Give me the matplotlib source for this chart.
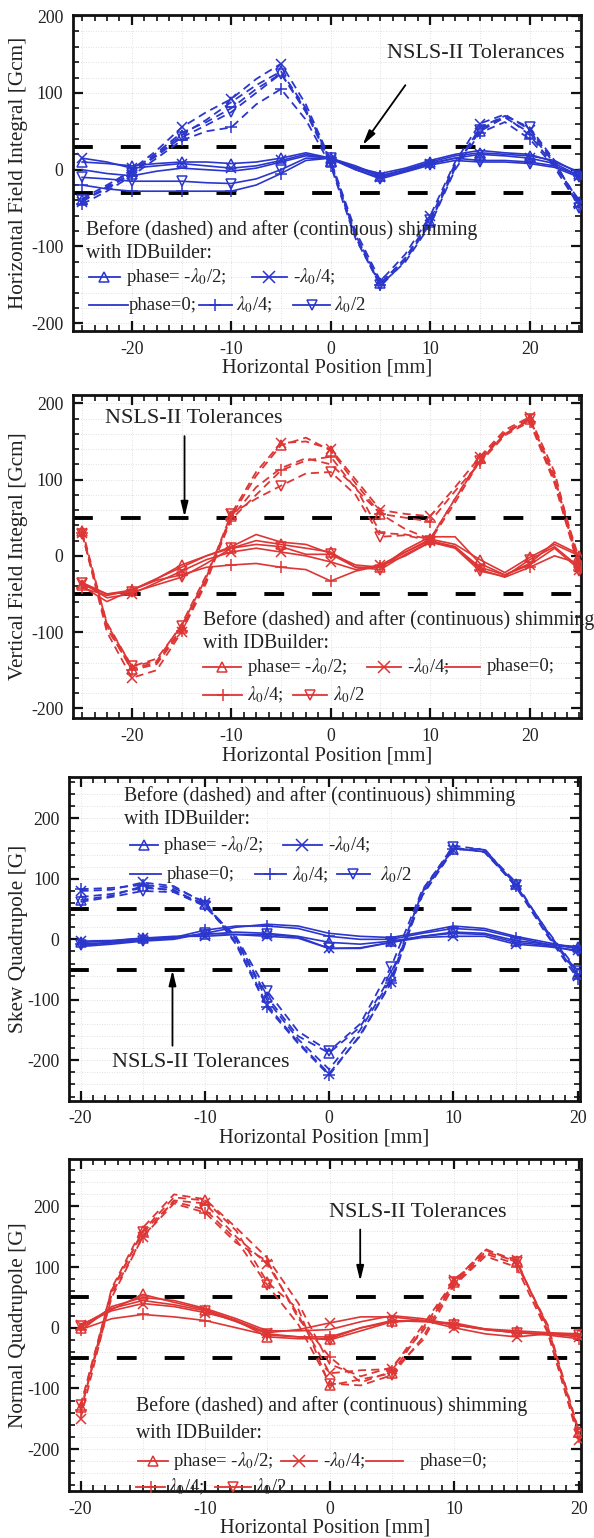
import matplotlib
matplotlib.use("Agg")
import matplotlib.pyplot as plt
from matplotlib.lines import Line2D
from matplotlib.ticker import MultipleLocator
import numpy as np

plt.rcParams['font.family'] = ['Liberation Serif', 'DejaVu Serif']
plt.rcParams['mathtext.fontset'] = 'stix'

BLUE = '#2b36cc'
RED = '#de3535'
TXT = '#222222'

# ---------------- data ----------------
x_p12 = [-25, -22.5, -20, -17.5, -15, -12.5, -10, -7.5, -5, -2.5, 0, 2.5, 5, 7.5, 10, 12.5, 15, 17.5, 20, 22.5, 25]
x_p34 = [-20, -17.5, -15, -12.5, -10, -7.5, -5, -2.5, 0, 2.5, 5, 7.5, 10, 12.5, 15, 17.5, 20]

phase_labels = [r'phase= -$\lambda_0$/2;', r'-$\lambda_0$/4;', 'phase=0;', r'$\lambda_0$/4;', r'$\lambda_0$/2']

# Panel 1: horizontal field integral [Gcm]
p1_before = [
    [-40, -25, -5, 20, 45, 65, 88, 110, 128, 80, 10, -85, -148, -115, -68, 5, 50, 68, 48, 8, -42],
    [-42, -22, 0, 25, 55, 75, 92, 118, 138, 85, 12, -80, -145, -110, -60, 10, 60, 72, 52, 10, -45],
    [-38, -20, -2, 22, 48, 62, 80, 105, 125, 75, 8, -88, -152, -118, -70, 2, 55, 70, 45, 5, -40],
    [-45, -28, -8, 15, 38, 50, 55, 85, 105, 65, 5, -90, -150, -120, -72, 0, 48, 62, 40, 3, -48],
    [-40, -24, -4, 18, 42, 58, 75, 100, 125, 78, 10, -85, -150, -115, -65, 8, 52, 70, 55, 12, -50],
]
p1_after = [
    [10, 8, 5, 8, 10, 10, 8, 10, 15, 22, 15, 2, -8, 0, 10, 18, 22, 20, 18, 12, -5],
    [15, 10, 2, 5, 8, 5, 2, 5, 12, 20, 14, 0, -10, -2, 8, 15, 20, 18, 15, 8, -8],
    [0, -5, -8, -2, 2, 0, -2, 2, 10, 18, 15, 3, -5, 2, 12, 20, 25, 22, 20, 10, -3],
    [-20, -25, -28, -28, -28, -28, -28, -20, -5, 12, 15, 5, -8, 0, 8, 15, 12, 12, 10, 5, -8],
    [-10, -12, -15, -15, -15, -17, -18, -12, 0, 15, 15, 0, -12, -3, 6, 12, 10, 10, 8, 3, -10],
]

# Panel 2: vertical field integral [Gcm]
p2_before = [
    [32, -95, -148, -140, -95, -30, 52, 105, 145, 155, 138, 95, 55, 35, 22, 75, 128, 162, 180, 100, -10],
    [30, -100, -160, -150, -100, -35, 55, 110, 148, 150, 140, 100, 60, 55, 52, 90, 130, 165, 182, 110, -15],
    [35, -90, -145, -138, -90, -25, 50, 90, 115, 128, 120, 90, 30, 28, 22, 75, 125, 160, 178, 100, -5],
    [30, -92, -150, -142, -98, -32, 48, 80, 112, 125, 130, 88, 55, 50, 45, 85, 122, 158, 176, 95, -18],
    [28, -88, -145, -135, -92, -28, 55, 75, 92, 108, 110, 80, 25, 27, 20, 70, 125, 160, 180, 105, -20],
]
p2_after = [
    [-38, -50, -45, -30, -12, 0, 10, 20, 15, 10, 5, -15, -15, 5, 22, 15, -5, -22, -2, 15, 0],
    [-35, -55, -50, -35, -20, -5, 5, 10, 5, 0, -8, -18, -12, 5, 20, 12, -15, -25, -12, 10, -18],
    [-40, -60, -45, -30, -15, 0, 12, 28, 18, 15, 3, -12, -15, 8, 25, 25, -10, -25, -10, 18, 2],
    [-42, -52, -45, -32, -25, -15, -12, -10, -15, -18, -33, -20, -13, 0, 18, 12, -18, -28, -15, 0, -10],
    [-35, -50, -48, -38, -28, -10, 10, 15, 12, 2, 2, -15, -18, 2, 18, 10, -20, -27, -5, 12, -15],
]

# Panel 3: skew quadrupole [G]
p3_before = [
    [65, 72, 88, 80, 58, 2, -95, -160, -188, -145, -60, 78, 150, 145, 92, 15, -55],
    [80, 82, 94, 88, 60, -5, -108, -170, -222, -160, -70, 72, 148, 150, 90, 10, -60],
    [70, 75, 85, 82, 55, 0, -100, -165, -215, -150, -65, 80, 155, 148, 95, 12, -58],
    [83, 85, 90, 85, 62, -8, -112, -172, -225, -158, -72, 75, 150, 146, 88, 8, -65],
    [62, 70, 80, 78, 55, 5, -85, -152, -185, -140, -45, 82, 152, 144, 90, 16, -52],
]
p3_after = [
    [-5, -3, 2, 3, 8, 12, 10, 5, -5, -8, -3, 5, 12, 10, -2, -8, -12],
    [-3, -2, 2, 5, 5, 8, 5, 2, -15, -15, -5, 3, 5, 5, -8, -12, -18],
    [-12, -8, -3, 0, 10, 20, 25, 22, 10, 5, 3, 12, 22, 18, 5, -5, -15],
    [-8, -5, 0, 3, 15, 22, 22, 18, 5, 0, 0, 10, 18, 15, 3, -8, -15],
    [-10, -6, -2, 2, 10, 8, 8, 4, -15, -14, -5, 5, 10, 8, -5, -10, -20],
]

# Panel 4: normal quadrupole [G]
p4_before = [
    [-130, 60, 160, 215, 210, 160, 75, 30, -95, -85, -75, 0, 75, 125, 110, 0, -172],
    [-150, 55, 150, 210, 205, 150, 105, 20, -75, -70, -68, 5, 78, 128, 112, -5, -185],
    [-140, 65, 165, 220, 212, 165, 115, 40, -60, -80, -65, -5, 72, 122, 105, 5, -170],
    [-135, 50, 150, 205, 190, 140, 110, 15, -48, -90, -72, -20, 70, 118, 100, -8, -180],
    [-128, 62, 158, 208, 195, 145, 70, 5, -92, -95, -78, -15, 76, 130, 108, 2, -175],
]
p4_after = [
    [0, 30, 55, 42, 30, 12, -15, -18, -18, 0, 12, 10, 8, -2, -5, -8, -10],
    [5, 28, 40, 35, 25, 12, -8, -3, 8, 18, 18, 12, 0, -10, -15, -10, -15],
    [-5, 35, 50, 45, 32, 15, -5, -5, -3, 10, 20, 15, 5, -3, -8, -10, -12],
    [-3, 15, 22, 18, 12, 0, -12, -15, -15, 0, 10, 12, 5, -2, -8, -12, -18],
    [3, 32, 45, 38, 28, 10, -10, -15, -20, -5, 10, 12, 5, -3, -8, -10, -12],
]

tolerances = [30, 50, 50, 50]
ylabels = ['Horizontal Field Integral [Gcm]', 'Vertical Field Integral [Gcm]',
           'Skew Quadrupole [G]', 'Normal Quadrupole [G]']
xlabel = 'Horizontal Position [mm]'

# ---------------- styling ----------------
markers = ['^', 'x', None, '+', 'v']
msizes = [6.5, 7, 0, 8, 6.5]

fig = plt.figure(figsize=(5.94, 15.38), dpi=100)

panels = [
    dict(rect=[0.1231, 0.7848, 0.8557, 0.2055], xlim=(-25.9, 25.2), ylim=(-210, 201.5),
         x=x_p12, before=p1_before, after=p1_after, color=BLUE, xminor=1.25,
         ann=dict(text_xy=(14.6, 151), tail=(7.5, 110), head=(3.2, 32)),
         leg=dict(tx=0.026, ty1=0.32, ty2=0.245,
                  rows=[(0.172, [(0, 0.031, 0.092, 0.104), (1, 0.352, 0.420, 0.432)]),
                        (0.082, [(2, 0.031, 0.107, 0.110), (3, 0.247, 0.312, 0.320), (4, 0.433, 0.505, 0.513)])])),
    dict(rect=[0.1231, 0.5330, 0.8557, 0.2102], xlim=(-25.9, 25.2), ylim=(-213, 211),
         x=x_p12, before=p2_before, after=p2_after, color=RED, xminor=1.25,
         ann=dict(text_xy=(-13.8, 180), tail=(-14.7, 157), head=(-14.7, 51)),
         leg=dict(tx=0.256, ty1=0.303, ty2=0.232,
                  rows=[(0.160, [(0, 0.256, 0.330, 0.342), (1, 0.578, 0.646, 0.656), (2, 0.732, 0.800, 0.814)]),
                        (0.072, [(3, 0.256, 0.332, 0.342), (4, 0.433, 0.499, 0.512)])])),
    dict(rect=[0.1167, 0.2843, 0.8589, 0.2103], xlim=(-20.9, 20.15), ylim=(-267, 268),
         x=x_p34, before=p3_before, after=p3_after, color=BLUE, xminor=1.0,
         ann=dict(text_xy=(-10.3, -204), tail=(-12.6, -176), head=(-12.6, -51)),
         leg=dict(tx=0.108, ty1=0.942, ty2=0.870,
                  rows=[(0.790, [(0, 0.118, 0.174, 0.184), (1, 0.419, 0.495, 0.507)]),
                        (0.700, [(2, 0.119, 0.180, 0.190), (3, 0.363, 0.425, 0.437), (4, 0.524, 0.590, 0.609)])])),
    dict(rect=[0.1167, 0.0306, 0.8609, 0.2157], xlim=(-20.9, 20.15), ylim=(-269, 278),
         x=x_p34, before=p4_before, after=p4_after, color=RED, xminor=1.0,
         ann=dict(text_xy=(7.1, 190), tail=(2.45, 162), head=(2.45, 77)),
         leg=dict(tx=0.131, ty1=0.257, ty2=0.172,
                  rows=[(0.090, [(0, 0.134, 0.193, 0.203), (1, 0.413, 0.484, 0.497), (2, 0.581, 0.653, 0.686)]),
                        (0.012, [(3, 0.131, 0.187, 0.193), (4, 0.284, 0.356, 0.363)])])),
]

for i, P in enumerate(panels):
    ax = fig.add_axes(P['rect'])
    c = P['color']
    ax.set_xlim(*P['xlim'])
    ax.set_ylim(*P['ylim'])

    ax.xaxis.set_major_locator(MultipleLocator(10))
    ax.xaxis.set_minor_locator(MultipleLocator(P['xminor']))
    ax.yaxis.set_major_locator(MultipleLocator(100))
    ax.yaxis.set_minor_locator(MultipleLocator(20))
    # faint dotted grid
    for gy in np.arange(-260, 280, 20):
        ax.axhline(gy, color='#d6d6d6', lw=0.6, ls=(0, (1, 2)), zorder=0)
    for gx in np.arange(-25, 26, 5):
        ax.axvline(gx, color='#d6d6d6', lw=0.6, ls=(0, (1, 2)), zorder=0)

    # tolerance lines
    for t in (tolerances[i], -tolerances[i]):
        ax.axhline(t, color='black', lw=2.8, ls=(0, (5.1, 7.2)), zorder=2)

    # curves: before (dashed) and after (solid)
    for k in range(5):
        m = markers[k]
        ax.plot(P['x'], P['before'][k], color=c, lw=1.3, ls=(0, (4.5, 2.8)),
                marker=m, ms=msizes[k], mfc='none', mew=1.1, markevery=2, zorder=3)
        ax.plot(P['x'], P['after'][k], color=c, lw=1.2, ls='-',
                marker=m, ms=msizes[k], mfc='none', mew=1.1, markevery=2, zorder=3)

    for s in ax.spines.values():
        s.set_linewidth(2.0)
        s.set_color('#111111')
    ax.tick_params(which='both', direction='in', top=True, right=True, colors='#111111',
                   labelcolor=TXT, labelsize=12.8)
    ax.tick_params(which='major', length=7, width=1.6, pad=7)
    ax.tick_params(which='minor', length=4, width=1.2)
    ax.set_xticks([-20, -10, 0, 10, 20])
    ax.set_xticklabels(['-20', '-10', '0', '10', '20'])
    ax.set_yticks([-200, -100, 0, 100, 200])
    ax.set_yticklabels(['-200', '-100', '0', '100', '200'])

    ax.set_xlabel(xlabel, fontsize=14.8, color=TXT)
    ax.set_ylabel(ylabels[i], fontsize=15.3, color=TXT)
    hpx = P['rect'][3] * 1538
    ax.xaxis.set_label_coords(0.5, -28 / hpx)
    wpx = P['rect'][2] * 594
    ax.yaxis.set_label_coords(-(P['rect'][0] * 594 - 28) / wpx, 0.5)

    # annotation
    A = P['ann']
    ax.text(A['text_xy'][0], A['text_xy'][1], 'NSLS-II Tolerances', fontsize=16,
            color=TXT, ha='center', va='center', zorder=5)
    ax.annotate('', xy=A['head'], xytext=A['tail'],
                arrowprops=dict(arrowstyle='-|>,head_length=0.9,head_width=0.22',
                                color='black', lw=1.3, shrinkA=0, shrinkB=0), zorder=5)

    # legend (text + handles placed in axes fractions)
    L = P['leg']
    ax.text(L['tx'], L['ty1'], 'Before (dashed) and after (continuous) shimming',
            transform=ax.transAxes, fontsize=14.2, color=TXT, va='center', ha='left',
            clip_on=False, zorder=6)
    ax.text(L['tx'], L['ty2'], 'with IDBuilder:', transform=ax.transAxes, fontsize=14.2,
            color=TXT, va='center', ha='left', zorder=6)
    for ry, entries in L['rows']:
        for (k, x0, x1, xt) in entries:
            h = Line2D([x0, (x0 + x1) / 2, x1], [ry, ry, ry], transform=ax.transAxes,
                       color=c, lw=1.3, marker=markers[k], ms=msizes[k] + 1, mfc='none',
                       mew=1.1, markevery=[1], zorder=6, clip_on=False)
            ax.add_line(h)
            ax.text(xt, ry, phase_labels[k], transform=ax.transAxes, fontsize=13.5,
                    color=TXT, va='center', ha='left', zorder=6)

fig.savefig('out.png', dpi=100)
